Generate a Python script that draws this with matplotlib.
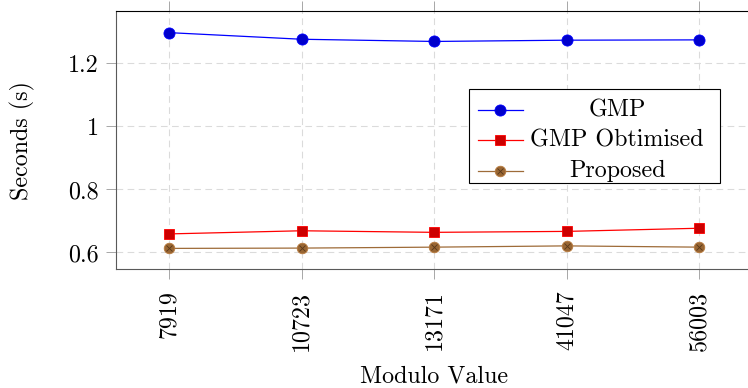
import numpy as np
import matplotlib.pyplot as plt
from matplotlib.patches import Rectangle
from matplotlib.lines import Line2D

plt.rcParams['font.family'] = ['cmr10', 'DejaVu Serif']
plt.rcParams['axes.formatter.use_mathtext'] = True
plt.rcParams['font.size'] = 17.3

# data
moduli = ['7919', '10723', '13171', '41047', '56003']
gmp = [1.298, 1.277, 1.270, 1.274, 1.275]
gmp_opt = [0.659, 0.669, 0.664, 0.667, 0.677]
proposed = [0.613, 0.614, 0.617, 0.621, 0.617]
yticks = [0.6, 0.8, 1.0, 1.2]
ytick_labels = ['0.6', '0.8', '1', '1.2']

W, H = 748, 388
fig = plt.figure(figsize=(W / 100, H / 100), dpi=100)

def fx(px):
    return px / W

def fy(py):
    return 1 - py / H

# axes box in pixels (the right side runs past the picture edge)
ax_left, ax_right, ax_top, ax_bot = 116, 752, 11, 269
ax = fig.add_axes([fx(ax_left), fy(ax_bot), (ax_right - ax_left) / W, (ax_bot - ax_top) / H])

x = np.arange(len(moduli))
blue, blue_f = (0, 0, 1), (0, 0, 0.8)
red, red_f = (1, 0, 0), (0.8, 0, 0)
brown, brown_f = (0.62, 0.42, 0.22), (0.6, 0.4, 0.2)
brown_edge = (0.72, 0.48, 0.24)
cross_c = (0.35, 0.22, 0.1)

ax.plot(x, gmp, color=blue, lw=0.9, marker='o', ms=8, mfc=blue_f, mec=blue, mew=0.6, zorder=3)
ax.plot(x, gmp_opt, color=red, lw=0.9, marker='s', ms=7.8, mfc=red_f, mec=red, mew=0.6, zorder=3)
ax.plot(x, proposed, color=brown, lw=0.9, marker='o', ms=7.6, mfc=brown_f, mec=brown_edge, mew=0.6, zorder=3)
ax.plot(x, proposed, ls='none', marker='x', ms=4.8, mec=cross_c, mew=0.6, zorder=4)

ax.set_xlim(-0.4, 4.4)
ax.set_ylim(0.6 - (ax_bot - 252.5) / 315, 1.2 + (63.5 - ax_top) / 315)

ax.set_xticks(x)
ax.set_xticklabels(moduli, rotation=90, va='top', ha='center')
ax.set_yticks(yticks)
ax.set_yticklabels(ytick_labels)

ax.tick_params(axis='x', top=True, bottom=True, direction='out', length=7.5, width=0.6, color='0.6', pad=8)
ax.tick_params(axis='y', left=True, right=False, direction='out', length=7.5, width=0.6, color='0.6', pad=5)

ax.grid(True, color='0.86', lw=0.8, linestyle=(0, (6, 4)))
ax.set_axisbelow(True)

ax.spines['left'].set_color('0.35')
ax.spines['bottom'].set_color('0.35')
ax.spines['top'].set_color('black')
for s in ['left', 'bottom', 'top']:
    ax.spines[s].set_linewidth(0.8)
ax.spines['right'].set_visible(False)

ax.set_xlabel('Modulo Value', va='center')
ax.xaxis.set_label_coords(0.5, -(376 - ax_bot) / (ax_bot - ax_top))
ax.set_ylabel('Seconds (s)', va='center')
ax.yaxis.set_label_coords(-(ax_left - 22) / (ax_right - ax_left), 0.5)

# legend drawn by hand so that labels are centred like the original
fig.patches.append(Rectangle((fx(469), fy(183)), fx(720) - fx(469), fy(89) - fy(183),
                             transform=fig.transFigure, fill=True, facecolor='white',
                             edgecolor='black', lw=0.8, zorder=10))
entries = [
    ('GMP', 110, dict(color=blue, marker='o', ms=8, mfc=blue_f, mec=blue)),
    ('GMP Obtimised', 140, dict(color=red, marker='s', ms=7.8, mfc=red_f, mec=red)),
    ('Proposed', 171, dict(color=brown, marker='o', ms=7.6, mfc=brown_f, mec=brown_edge)),
]
for label, ypx, style in entries:
    fig.add_artist(Line2D([fx(478), fx(523)], [fy(ypx), fy(ypx)], transform=fig.transFigure,
                          lw=0.9, zorder=11, color=style['color']))
    fig.add_artist(Line2D([fx(500)], [fy(ypx)], transform=fig.transFigure, ls='none',
                          marker=style['marker'], ms=style['ms'], mfc=style['mfc'],
                          mec=style['mec'], mew=0.6, zorder=12))
    if label == 'Proposed':
        fig.add_artist(Line2D([fx(500)], [fy(ypx)], transform=fig.transFigure, ls='none',
                              marker='x', ms=4.8, mec=cross_c, mew=0.6, zorder=13))
    fig.text(fx(617), fy(ypx), label, ha='center', va='center', zorder=12)

fig.savefig('out.png', dpi=100)
